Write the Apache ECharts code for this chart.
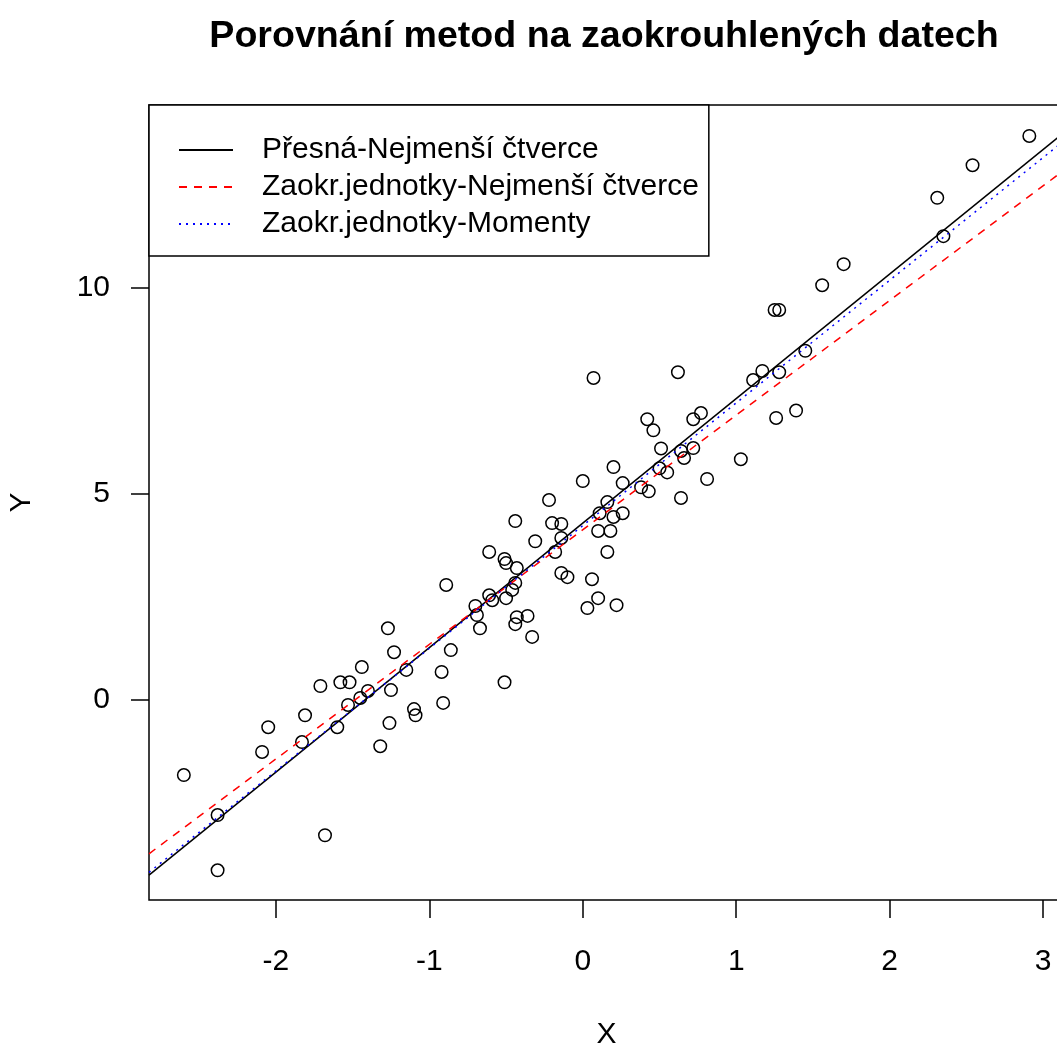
<!DOCTYPE html>
<html>
<head>
<meta charset="utf-8">
<script src="https://cdn.jsdelivr.net/npm/echarts@6/dist/echarts.min.js"></script>
<style>html,body{margin:0;padding:0;background:#fff;}#c{width:1057px;height:1048px;}</style>
</head>
<body>
<div id="c"></div>
<script>
// Data
const pointX = [-2.60,-2.38,-2.38,-2.09,-2.05,-1.83,-1.81,-1.71,-1.68,-1.60,-1.58,-1.52,-1.53,-1.45,-1.40,-1.44,-1.32,-1.27,-1.26,-1.25,-1.23,-1.15,-1.10,-1.09,-0.92,-0.91,-0.89,-0.86,
  -0.70,-0.69,-0.67,-0.61,-0.61,-0.59,-0.51,-0.51,-0.50,-0.50,-0.46,-0.44,-0.44,-0.43,-0.43,-0.44,-0.36,-0.33,-0.31,-0.22,-0.20,-0.18,-0.14,-0.14,-0.14,-0.10,
  0.00,0.03,0.06,0.07,0.10,0.10,0.11,0.16,0.18,0.16,0.20,0.22,0.20,0.26,0.26,0.38,0.42,0.43,0.46,0.51,0.50,0.55,0.62,0.64,0.64,0.66,0.72,0.72,0.77,0.81,
  1.03,1.11,1.17,1.26,1.25,1.28,1.28,1.39,1.45,1.56,1.70,2.31,2.35,2.54,2.91];
const pointY = [-1.83,-2.80,-4.14,-1.27,-0.67,-1.03,-0.38,0.33,-3.29,-0.67,0.42,0.42,-0.13,0.04,0.21,0.79,-1.13,1.73,-0.57,0.23,1.15,0.72,-0.23,-0.38,0.67,-0.08,2.78,1.20,
  2.27,2.05,1.73,3.58,2.53,2.41,0.42,3.41,3.31,2.46,2.66,2.83,4.33,3.19,2.00,1.83,2.03,1.52,3.84,4.84,4.28,3.58,3.07,4.26,3.92,2.97,
  5.30,2.22,2.92,7.80,4.09,2.46,4.52,3.58,4.09,4.79,5.64,2.29,4.43,4.52,5.25,5.15,6.80,5.05,6.53,6.09,5.61,5.51,7.94,4.89,6.03,5.86,6.10,6.80,6.95,5.35,
  5.83,7.75,7.97,6.83,9.45,9.45,7.94,7.01,8.46,10.05,10.56,12.17,11.24,12.96,13.67];
const lineNames = ['Přesná-Nejmenší čtverce','Zaokr.jednotky-Nejmenší čtverce','Zaokr.jednotky-Momenty'];
const lineIntercepts = [4.28, 4.12, 4.22];
const lineSlopes = [3.02, 2.78, 2.975];
const xTicks = [-2,-1,0,1,2,3];
const yTicks = [0,5,10];
const titleText = 'Porovnání metod na zaokrouhlených datech';

const X_MIN = -2.827, X_MAX = 3.136, Y_MIN = -4.86, Y_MAX = 14.42;
const FONT = '"Liberation Sans", Arial, sans-serif';
const lineColors = ['#000000','#ff0000','#0000ff'];
const lineTypes = ['solid',[8,7],[2,5]];

const scatterData = pointX.map((x,i)=>[x, pointY[i]]);
const lineSeries = lineNames.map((name,i)=>({
  name: name,
  type: 'line',
  symbol: 'none',
  showSymbol: false,
  z: 5,
  data: [[X_MIN, lineIntercepts[i] + lineSlopes[i]*X_MIN],[X_MAX, lineIntercepts[i] + lineSlopes[i]*X_MAX]],
  lineStyle: {color: lineColors[i], width: 1.5, type: lineTypes[i]},
  itemStyle: {color: lineColors[i]}
}));

const chart = echarts.init(document.getElementById('c'));
chart.setOption({
  animation: false,
  backgroundColor: '#ffffff',
  textStyle: {fontFamily: FONT},
  title: {
    text: titleText,
    left: 604, top: 18, padding: 0,
    textAlign: 'center',
    textStyle: {fontFamily: FONT, fontWeight: 'bold', fontSize: 37.6, color: '#000'}
  },
  grid: {left: 149, top: 105, width: 915, height: 795, show: true, borderColor: '#000', borderWidth: 1.5,
         backgroundColor: 'transparent', containLabel: false, outerBoundsMode: 'none'},
  legend: {
    data: lineNames,
    orient: 'vertical',
    left: 149, top: 105,
    padding: [30, 10, 17, 29],
    itemGap: 7,
    itemWidth: 54,
    itemHeight: 10,
    backgroundColor: '#fff',
    borderColor: '#000',
    borderWidth: 1.5,
    borderRadius: 0,
    itemStyle: {opacity: 0},
    lineStyle: {opacity: 1},
    textStyle: {fontFamily: FONT, fontSize: 30, color: '#000', lineHeight: 30, padding: [0,0,0,24]},
    z: 10
  },
  xAxis: {
    type: 'value', min: X_MIN, max: X_MAX,
    name: 'X', nameLocation: 'middle', nameGap: 120, nameMoveOverlap: false,
    nameTextStyle: {fontFamily: FONT, fontSize: 30, color: '#000'},
    axisLine: {show: false, onZero: false},
    axisTick: {show: true, inside: false, length: 18, customValues: xTicks, lineStyle: {color: '#000', width: 1.5}},
    axisLabel: {show: true, customValues: xTicks, margin: 47, fontFamily: FONT, fontSize: 30, color: '#000'},
    splitLine: {show: false}
  },
  yAxis: {
    type: 'value', min: Y_MIN, max: Y_MAX,
    name: 'Y', nameLocation: 'middle', nameGap: 112, nameRotate: 90, nameMoveOverlap: false,
    nameTextStyle: {fontFamily: FONT, fontSize: 30, color: '#000'},
    axisLine: {show: false, onZero: false},
    axisTick: {show: true, inside: false, length: 18, customValues: yTicks, lineStyle: {color: '#000', width: 1.5}},
    axisLabel: {show: true, customValues: yTicks, margin: 39, fontFamily: FONT, fontSize: 30, color: '#000'},
    splitLine: {show: false}
  },
  series: [{
    name: 'data',
    type: 'scatter',
    symbol: 'circle',
    symbolSize: 12.5,
    z: 2,
    data: scatterData,
    itemStyle: {color: 'rgba(0,0,0,0)', borderColor: '#000', borderWidth: 1.5, opacity: 1}
  }].concat(lineSeries)
});
</script>
</body>
</html>
